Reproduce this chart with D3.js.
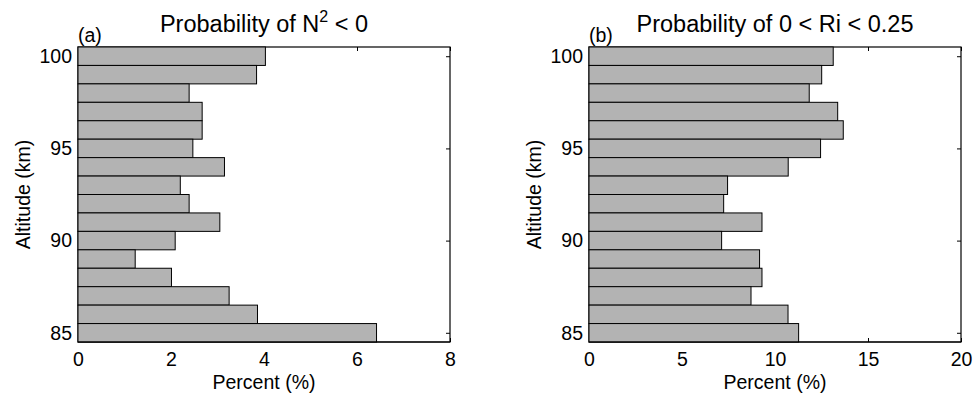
<!DOCTYPE html>
<html>
<head>
<meta charset="utf-8">
<script src="https://cdn.jsdelivr.net/npm/d3@7"></script>
<style>
  body { margin: 0; background: #fff; }
  svg text { font-family: "Liberation Sans", Arial, Helvetica, sans-serif; fill: #000; }
</style>
</head>
<body>
<div id="chart"></div>
<script>
// altitude bins (km), top to bottom
const altitudes = [100, 99, 98, 97, 96, 95, 94, 93, 92, 91, 90, 89, 88, 87, 86, 85];

// panel (a): probability of N^2 < 0 (%)
const n2Percent = [4.03, 3.84, 2.39, 2.67, 2.67, 2.47, 3.15, 2.2, 2.39, 3.05, 2.09, 1.23, 2.01, 3.25, 3.86, 6.42];

// panel (b): probability of 0 < Ri < 0.25 (%)
const riPercent = [13.13, 12.51, 11.84, 13.37, 13.67, 12.45, 10.71, 7.45, 7.24, 9.3, 7.13, 9.17, 9.3, 8.71, 10.7, 11.27];

const altTicks = [85, 90, 95, 100];
const n2Ticks = [0, 2, 4, 6, 8];
const riTicks = [0, 5, 10, 15, 20];

const W = 974, H = 397;
const plotW = 372, plotTop = 47, plotBottom = 342;
const tickLen = 4;

const svg = d3.select("#chart").append("svg")
  .attr("width", W)
  .attr("height", H);

function drawPanel(left, values, xMax, xTicks, letter, titleFn) {
  const g = svg.append("g").attr("transform", "translate(" + left + ",0)");

  const x = d3.scaleLinear().domain([0, xMax]).range([0, plotW]);
  const y = d3.scaleLinear().domain([84.5, 100.5]).range([plotBottom, plotTop]);

  // inward ticks (drawn under bars, like matlab)
  g.append("g")
    .attr("transform", "translate(0," + plotBottom + ")")
    .call(d3.axisBottom(x).tickValues(xTicks).tickSize(-tickLen).tickPadding(10).tickFormat(d3.format("d")))
    .call(a => a.select(".domain").remove());
  g.append("g")
    .attr("transform", "translate(0," + plotTop + ")")
    .call(d3.axisTop(x).tickValues(xTicks).tickSize(-tickLen).tickFormat(""))
    .call(a => a.select(".domain").remove());
  g.append("g")
    .call(d3.axisLeft(y).tickValues(altTicks).tickSize(-tickLen).tickPadding(6).tickFormat(d3.format("d")))
    .call(a => a.select(".domain").remove());
  g.append("g")
    .attr("transform", "translate(" + plotW + ",0)")
    .call(d3.axisRight(y).tickValues(altTicks).tickSize(-tickLen).tickFormat(""))
    .call(a => a.select(".domain").remove());

  g.selectAll(".tick line").attr("stroke", "#000");
  g.selectAll(".tick text").style("font-size", "19.5px");

  // box
  g.append("rect")
    .attr("x", 0).attr("y", plotTop)
    .attr("width", plotW).attr("height", plotBottom - plotTop)
    .attr("fill", "none").attr("stroke", "#000").attr("stroke-width", 1.2);

  // bars
  g.selectAll("rect.bar")
    .data(altitudes)
    .enter()
    .append("rect")
    .attr("class", "bar")
    .attr("x", x(0))
    .attr("y", d => y(d + 0.5))
    .attr("width", (d, i) => x(values[i]) - x(0))
    .attr("height", y(0) - y(1))
    .attr("fill", "#b3b3b3")
    .attr("stroke", "#000")
    .attr("stroke-width", 1);

  // bottom line of the box stays on top
  g.append("line")
    .attr("x1", 0).attr("x2", plotW)
    .attr("y1", plotBottom).attr("y2", plotBottom)
    .attr("stroke", "#000").attr("stroke-width", 1.2);

  // panel letter
  g.append("text")
    .attr("x", 0).attr("y", 42)
    .style("font-size", "19.5px")
    .text("(" + letter + ")");

  // title
  const t = g.append("text")
    .attr("x", plotW / 2).attr("y", 32)
    .attr("text-anchor", "middle")
    .style("font-size", "23.5px");
  titleFn(t);

  // axis labels
  g.append("text")
    .attr("x", plotW / 2).attr("y", 389)
    .attr("text-anchor", "middle")
    .style("font-size", "19.5px")
    .text("Percent (%)");

  g.append("text")
    .attr("transform", "translate(-48," + ((plotTop + plotBottom) / 2) + ") rotate(-90)")
    .attr("text-anchor", "middle")
    .style("font-size", "19.5px")
    .text("Altitude (km)");
}

drawPanel(78, n2Percent, 8, n2Ticks, "a", t => {
  t.append("tspan").text("Probability of N");
  t.append("tspan").attr("dy", -10).style("font-size", "16px").text("2");
  t.append("tspan").attr("dy", 10).text(" < 0");
});

drawPanel(589, riPercent, 20, riTicks, "b", t => {
  t.text("Probability of 0 < Ri < 0.25");
});
</script>
</body>
</html>
